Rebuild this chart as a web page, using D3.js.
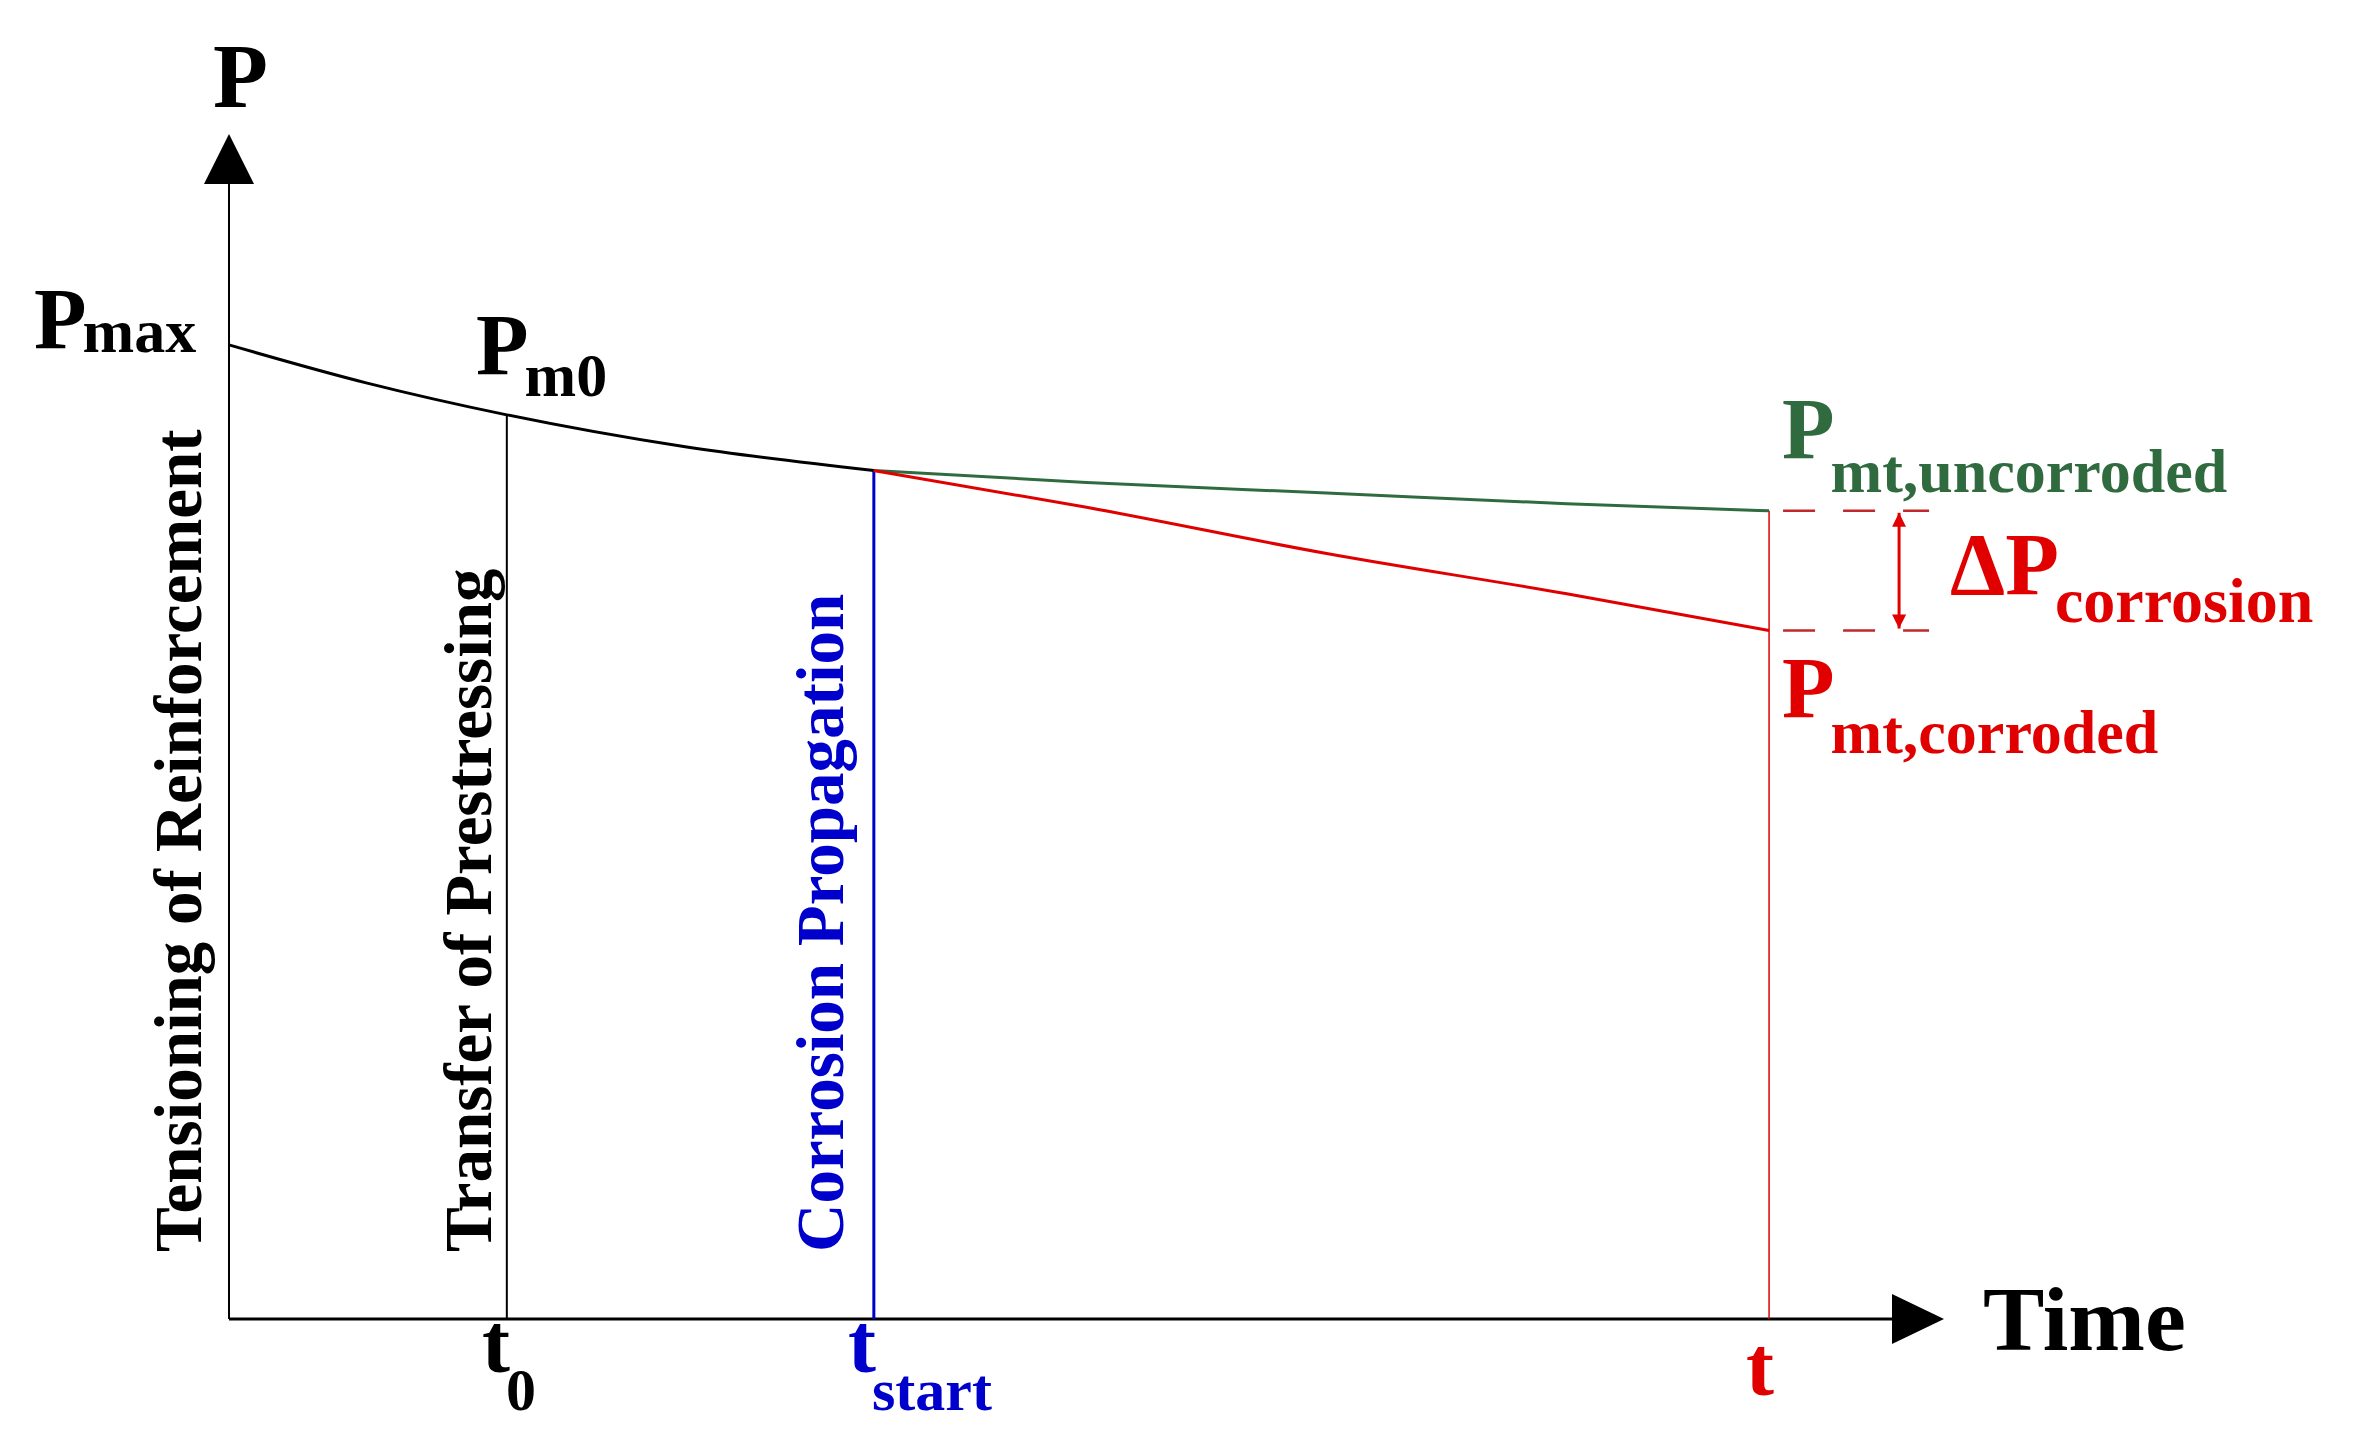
<!DOCTYPE html>
<html>
<head>
<meta charset="utf-8">
<script src="https://cdn.jsdelivr.net/npm/d3@7"></script>
<style>
  body { margin: 0; background: #fff; }
  text { font-family: "Liberation Serif", "DejaVu Serif", serif; font-weight: bold; }
</style>
</head>
<body>
<div id="graphic"></div>
<script>
const W = 2363, H = 1433

// time points (arbitrary units) and prestress levels
const times = { t0: 16.2, tstart: 37.6, t: 89.8 }
const lossCurve = [[0, 82.2], [8, 79.0], [16.2, 76.3], [26.6, 73.6], [37.6, 71.6]]
const uncorroded = [[37.6, 71.6], [50, 70.6], [64, 69.7], [78, 68.8], [89.8, 68.2]]
const corroded = [[37.6, 71.6], [50, 68.5], [64, 64.6], [78, 61.2], [89.8, 58.1]]

const green = "#2f6b3f", red = "#e00000", blue = "#0000cc"

let x = d3.scaleLinear().domain([0, 100]).range([229, 1944])
let y = d3.scaleLinear().domain([0, 100]).range([1319, 134])

let svg = d3.select("#graphic").append("svg")
    .attr("width", W)
    .attr("height", H)

let defs = svg.append("defs")
defs.append("marker").attr("id", "arrowRed")
    .attr("viewBox", "0 0 10 10").attr("refX", 10).attr("refY", 5)
    .attr("markerWidth", 26).attr("markerHeight", 14).attr("markerUnits", "userSpaceOnUse")
    .attr("orient", "auto-start-reverse")
    .append("path").attr("d", "M0,0 L10,5 L0,10 Z").attr("fill", red)

// axes
svg.append("line")
    .attr("x1", x(0)).attr("y1", y(0)).attr("x2", x(0)).attr("y2", y(100) + 50)
    .attr("stroke", "#000").attr("stroke-width", 2)
svg.append("path")
    .attr("d", `M${x(0)},${y(100)} l-25,50 l50,0 Z`).attr("fill", "#000")
svg.append("line")
    .attr("x1", x(0)).attr("y1", y(0)).attr("x2", x(100) - 50).attr("y2", y(0))
    .attr("stroke", "#000").attr("stroke-width", 3)
svg.append("path")
    .attr("d", `M${x(100)},${y(0)} l-52,-25 l0,50 Z`).attr("fill", "#000")

// vertical lines
const lastP = d => d[d.length - 1][1]
svg.append("line")
    .attr("x1", x(times.t0)).attr("x2", x(times.t0))
    .attr("y1", y(0)).attr("y2", y(lossCurve[2][1]))
    .attr("stroke", "#000").attr("stroke-width", 2)
svg.append("line")
    .attr("x1", x(times.tstart)).attr("x2", x(times.tstart))
    .attr("y1", y(0)).attr("y2", y(lastP(lossCurve)))
    .attr("stroke", blue).attr("stroke-width", 3)
svg.append("line")
    .attr("x1", x(times.t)).attr("x2", x(times.t))
    .attr("y1", y(0)).attr("y2", y(lastP(uncorroded)))
    .attr("stroke", red).attr("stroke-width", 1.5)

// curves
let line = d3.line().x(d => x(d[0])).y(d => y(d[1])).curve(d3.curveMonotoneX)
svg.append("path").datum(lossCurve).attr("d", line)
    .attr("fill", "none").attr("stroke", "#000").attr("stroke-width", 3)
svg.append("path").datum(uncorroded).attr("d", line)
    .attr("fill", "none").attr("stroke", green).attr("stroke-width", 3)
svg.append("path").datum(corroded).attr("d", line)
    .attr("fill", "none").attr("stroke", red).attr("stroke-width", 3)

// dashed guides and delta arrow
;[lastP(uncorroded), lastP(corroded)].forEach(p => {
    svg.append("line")
        .attr("x1", x(times.t)).attr("x2", x(times.t) + 160)
        .attr("y1", y(p)).attr("y2", y(p))
        .attr("stroke", "#c0282c").attr("stroke-width", 2.5)
        .attr("stroke-dasharray", "32,28").attr("stroke-dashoffset", -14)
})
svg.append("line")
    .attr("x1", x(times.t) + 130).attr("x2", x(times.t) + 130)
    .attr("y1", y(lastP(uncorroded)) + 2).attr("y2", y(lastP(corroded)) - 2)
    .attr("stroke", red).attr("stroke-width", 3)
    .attr("marker-start", "url(#arrowRed)").attr("marker-end", "url(#arrowRed)")

// labels with subscripts
function label(px, py, main, sub, color, size, subSize, dy) {
    let t = svg.append("text").attr("x", px).attr("y", py)
        .attr("fill", color).style("font-size", size + "px")
    t.append("tspan").text(main)
    if (sub) t.append("tspan").attr("dy", dy).attr("dx", -4).style("font-size", subSize + "px").text(sub)
}
label(213, 107, "P", null, "#000", 90)
label(34, 348, "P", "max", "#000", 86, 62, 4)
label(476, 374, "P", "m0", "#000", 86, 62, 22)
label(1782, 458, "P", "mt,uncorroded", green, 86, 62, 34)
label(1950, 594, "ΔP", "corrosion", red, 88, 64, 28)
label(1782, 717, "P", "mt,corroded", red, 86, 62, 36)
label(482, 1372, "t", "0", "#000", 84, 60, 38)
label(848, 1372, "t", "start", blue, 84, 60, 38)
label(1746, 1395, "t", null, red, 84)
label(1983, 1350, "Time", null, "#000", 92)

// rotated phase labels
const phases = ["Tensioning of Reinforcement", "Transfer of Prestressing", "Corrosion Propagation"]
const phaseX = [201, 491, 843]
const phaseColor = ["#000", "#000", blue]
phases.forEach((p, i) => {
    svg.append("text")
        .attr("transform", `translate(${phaseX[i]},1252) rotate(-90)`)
        .attr("fill", phaseColor[i])
        .style("font-size", "67px")
        .text(p)
})
</script>
</body>
</html>
